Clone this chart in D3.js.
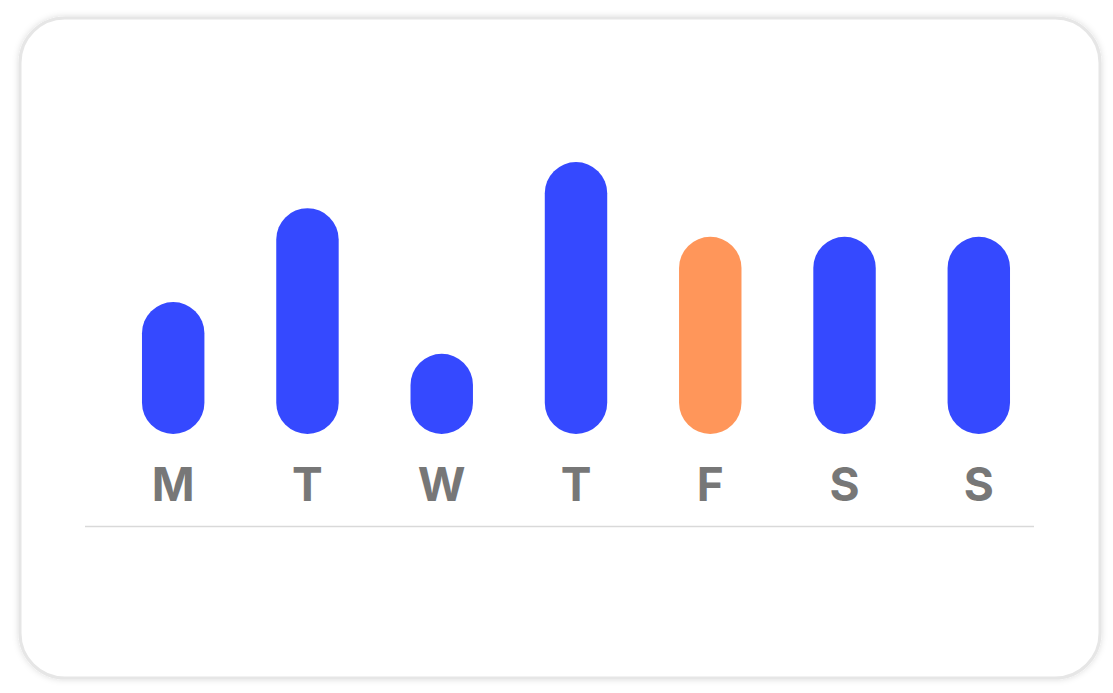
<!DOCTYPE html>
<html><head><meta charset="utf-8">
<script src="https://cdn.jsdelivr.net/npm/d3@7"></script>
<style>html,body{margin:0;padding:0;background:#fff;}svg{display:block;}</style>
</head><body>
<svg id="chart" width="1113" height="693"></svg>
<script>
const days = ["M","T","W","T","F","S","S"];
const values = [48.5, 83, 29.5, 100, 72.5, 72.5, 72.5];
const highlight = [false,false,false,false,true,false,false];

const W = 1113, H = 693;
const svg = d3.select("#chart");
const defs = svg.append("defs");
const f = defs.append("filter").attr("id","sh").attr("x","-10%").attr("y","-10%").attr("width","120%").attr("height","120%");
f.append("feDropShadow").attr("dx",0).attr("dy",0).attr("stdDeviation",3).attr("flood-color","#000").attr("flood-opacity",0.14);

svg.append("rect").attr("x",20).attr("y",18).attr("width",1080).attr("height",660)
  .attr("rx",45).attr("fill","#fff").attr("stroke","#e6e6e6").attr("stroke-width",3).attr("filter","url(#sh)");

const x = d3.scaleBand().domain(d3.range(days.length)).range([106, 1046]).paddingInner(0.535).paddingOuter(0.268);
const y = d3.scaleLinear().domain([0, 100]).range([434, 162]);
const bw = x.bandwidth();

svg.append("g").selectAll("rect").data(values).join("rect")
  .attr("x",(d,i)=>x(i)).attr("y",d=>y(d)).attr("width",bw).attr("height",d=>y(0)-y(d))
  .attr("rx",bw/2).attr("ry",bw/2)
  .attr("fill",(d,i)=>highlight[i]?"#FF965A":"#3549FF");

const axis = d3.axisBottom(x).tickSize(0).tickPadding(0).tickFormat(i=>days[i]);
const ag = svg.append("g").attr("transform","translate(0,468)").call(axis);
ag.select(".domain").remove();
ag.selectAll("text").attr("dy","0.71em").attr("fill","#777777")
  .style("font-family","Inter, 'Noto Sans', sans-serif").style("font-weight","700").style("font-size","46px");

svg.append("line").attr("x1",85).attr("x2",1034).attr("y1",526.5).attr("y2",526.5)
  .attr("stroke","#d9d9d9").attr("stroke-width",1.5);
</script>
</body></html>
